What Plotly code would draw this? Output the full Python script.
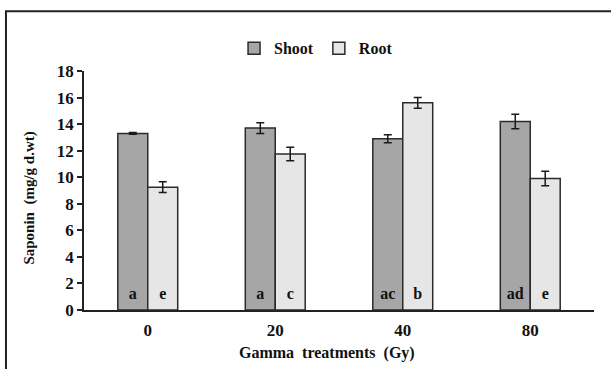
import plotly.graph_objects as go

categories = ["0", "20", "40", "80"]
shoot_values = [13.3, 13.7, 12.9, 14.2]
shoot_errors = [0.06, 0.4, 0.3, 0.55]
root_values = [9.25, 11.75, 15.6, 9.9]
root_errors = [0.4, 0.5, 0.4, 0.55]
shoot_letters = ["a", "a", "ac", "ad"]
root_letters = ["e", "c", "b", "e"]
letter_level = 1.15

FONT = "Liberation Serif"
x_idx = list(range(len(categories)))

fig = go.Figure()
fig.add_trace(go.Bar(
    name="Shoot", x=x_idx, y=shoot_values,
    marker=dict(color="#a6a6a6", line=dict(color="#2b2b2b", width=1.5)),
    error_y=dict(type="data", array=shoot_errors, color="#1a1a1a", thickness=1.5, width=4),
    offsetgroup="s",
))
fig.add_trace(go.Bar(
    name="Root", x=x_idx, y=root_values,
    marker=dict(color="#e6e6e6", line=dict(color="#2b2b2b", width=1.5)),
    error_y=dict(type="data", array=root_errors, color="#1a1a1a", thickness=1.5, width=4),
    offsetgroup="r",
))
fig.add_trace(go.Scatter(
    x=x_idx, y=[letter_level] * len(x_idx), mode="text", text=shoot_letters,
    textfont=dict(family=FONT, size=16, color="#111", weight="bold"),
    offsetgroup="s", showlegend=False, hoverinfo="skip",
))
fig.add_trace(go.Scatter(
    x=x_idx, y=[letter_level] * len(x_idx), mode="text", text=root_letters,
    textfont=dict(family=FONT, size=16, color="#111", weight="bold"),
    offsetgroup="r", showlegend=False, hoverinfo="skip",
))

fig.update_layout(
    width=611, height=369,
    margin=dict(l=84, r=17, t=71, b=59),
    paper_bgcolor="white", plot_bgcolor="white",
    barmode="group", bargap=0.53, bargroupgap=0,
    scattermode="group", scattergap=0.53,
    font=dict(family=FONT, size=16, color="#111", weight="bold"),
    legend=dict(orientation="h", x=0.455, xanchor="center", y=1.095, yanchor="middle",
                font=dict(family=FONT, size=16, weight="bold"), itemwidth=30,
                traceorder="normal"),
    xaxis=dict(
        tickmode="array", tickvals=x_idx, ticktext=categories,
        range=[-0.5, 3.5], showline=True, linecolor="#222", linewidth=1.5,
        ticks="outside", ticklen=4, tickcolor="rgba(0,0,0,0)",
        showgrid=False, zeroline=False,
        tickfont=dict(family=FONT, size=17, weight="bold"),
    ),
    yaxis=dict(
        range=[0, 18], dtick=2, showline=True, linecolor="#222", linewidth=1.5,
        ticks="outside", ticklen=5, tickcolor="#222", tickwidth=1.5,
        showgrid=False, zeroline=False,
        tickfont=dict(family=FONT, size=17, weight="bold"),
    ),
    annotations=[
        dict(text="Gamma  treatments  (Gy)", xref="paper", yref="paper",
             x=0.476, y=-0.182, xanchor="center", yanchor="middle", showarrow=False,
             font=dict(family=FONT, size=16, weight="bold")),
        dict(text="Saponin  (mg/g d.wt)", xref="paper", yref="paper",
             x=-0.106, y=0.47, xanchor="center", yanchor="middle", showarrow=False,
             textangle=-90, font=dict(family=FONT, size=15, weight="bold")),
    ],
    shapes=[dict(type="rect", xref="paper", yref="paper",
                 x0=-0.153, x1=1.5, y0=-1.0, y1=1.2495,
                 line=dict(color="#222", width=2), fillcolor="rgba(0,0,0,0)", layer="below")],
)

fig.write_html("out.html", config={"displayModeBar": False},
               post_script="document.body.style.margin='0';")
